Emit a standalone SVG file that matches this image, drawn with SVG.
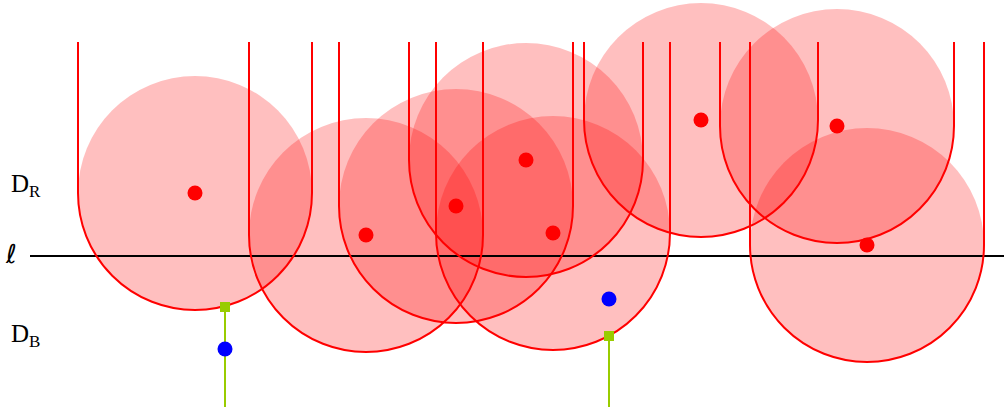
<svg xmlns="http://www.w3.org/2000/svg" width="1004" height="410" viewBox="0 0 1004 410">
<style>
.disk{fill:#ff0000;fill-opacity:0.25;stroke:none}
.u{fill:none;stroke:#ff0000;stroke-width:2}
.c{fill:#ff0000}
.b{fill:#0000ff}
.g{stroke:#99cc00;stroke-width:2}
.sq{fill:#99cc00}
.t{font-family:"Liberation Serif","DejaVu Serif",serif;fill:#000}
</style>
<rect width="1004" height="410" fill="#fff"/>
<g id="disks">
<circle class="disk" cx="195" cy="193" r="117"/>
<circle class="disk" cx="366" cy="235" r="117"/>
<circle class="disk" cx="456" cy="206" r="117"/>
<circle class="disk" cx="526" cy="160" r="117"/>
<circle class="disk" cx="553" cy="233" r="117"/>
<circle class="disk" cx="701" cy="120" r="117"/>
<circle class="disk" cx="837" cy="126" r="117"/>
<circle class="disk" cx="867" cy="245" r="117"/>
</g>
<g id="line-l">
<line x1="30" y1="256" x2="1004" y2="256" stroke="#000" stroke-width="2"/>
</g>
<g id="connectors">
<path class="u" d="M78 42V193A117 117 0 0 0 312 193V42"/>
<path class="u" d="M249 42V235A117 117 0 0 0 483 235V42"/>
<path class="u" d="M339 42V206A117 117 0 0 0 573 206V42"/>
<path class="u" d="M409 42V160A117 117 0 0 0 643 160V42"/>
<path class="u" d="M436 42V233A117 117 0 0 0 670 233V42"/>
<path class="u" d="M584 42V120A117 117 0 0 0 818 120V42"/>
<path class="u" d="M720 42V126A117 117 0 0 0 954 126V42"/>
<path class="u" d="M750 42V245A117 117 0 0 0 984 245V42"/>
<line class="g" x1="225" y1="306" x2="225" y2="407"/>
<line class="g" x1="609" y1="336" x2="609" y2="407"/>
</g>
<g id="red-points">
<circle class="c" cx="195" cy="193" r="7.5"/>
<circle class="c" cx="366" cy="235" r="7.5"/>
<circle class="c" cx="456" cy="206" r="7.5"/>
<circle class="c" cx="526" cy="160" r="7.5"/>
<circle class="c" cx="553" cy="233" r="7.5"/>
<circle class="c" cx="701" cy="120" r="7.5"/>
<circle class="c" cx="837" cy="126" r="7.5"/>
<circle class="c" cx="867" cy="245" r="7.5"/>
</g>
<g id="blue-points">
<circle class="b" cx="225" cy="349" r="7.5"/>
<circle class="b" cx="609" cy="299" r="7.5"/>
<rect class="sq" x="220" y="302" width="10" height="10"/>
<rect class="sq" x="604" y="331" width="10" height="10"/>
</g>
<g id="labels">
<text class="t" x="11" y="192" font-size="25">D<tspan font-size="17" dy="5">R</tspan></text>
<text x="6" y="263" font-size="26" font-family="'DejaVu Sans', sans-serif" fill="#000">ℓ</text>
<text class="t" x="11" y="342" font-size="25">D<tspan font-size="17" dy="5">B</tspan></text>
</g>
</svg>
